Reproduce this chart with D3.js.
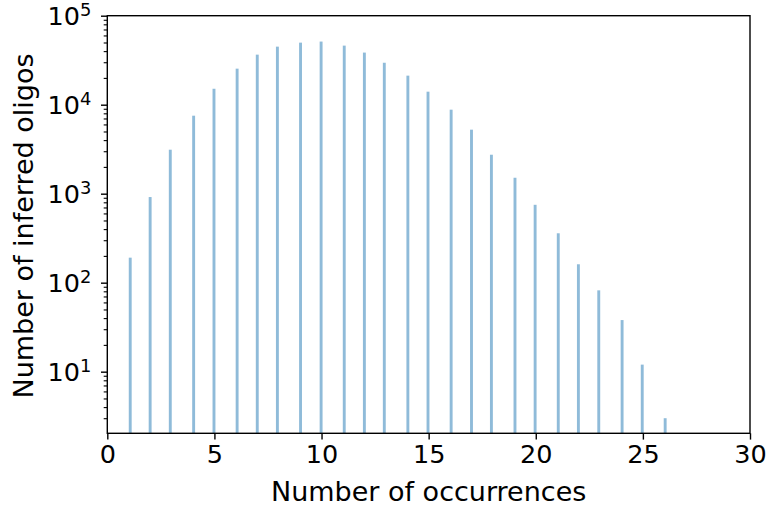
<!DOCTYPE html>
<html>
<head>
<meta charset="utf-8">
<script src="https://cdn.jsdelivr.net/npm/d3@7/dist/d3.min.js"></script>
<style>
  body { margin: 0; background: #fff; }
  text { font-family: "DejaVu Sans", sans-serif; fill: #000; }
</style>
</head>
<body>
<svg id="chart" width="768" height="509"></svg>
<script>
// Histogram data
const occurrences = [1, 2, 3, 4, 5, 6, 7, 8, 9, 10, 11, 12, 13, 14, 15, 16, 17, 18, 19, 20, 21, 22, 23, 24, 25, 26];
const binCenters = [1.07, 2.00, 2.94, 4.03, 4.98, 6.06, 7.00, 7.94, 9.02, 9.98, 11.06, 12.00, 12.93,
                    14.03, 14.97, 16.05, 17.00, 17.93, 19.03, 19.97, 21.05, 21.99, 22.94, 24.03, 24.97, 26.04];
const counts = [191, 917, 3120, 7520, 15100, 25400, 36500, 44900, 49800, 51200, 46100, 38500, 29600,
                21200, 14000, 8790, 5240, 2740, 1510, 750, 359, 161, 82, 38, 12, 3];
const binWidth = 0.135;
const xTicks = [0, 5, 10, 15, 20, 25, 30];
const yTickExponents = [1, 2, 3, 4, 5];

const width = 768, height = 509;
const plot = {left: 107.3, right: 750, top: 15.7, bottom: 433.3};
const tickFont = 25.5, labelFont = 27;

const svg = d3.select('#chart');

const x = d3.scaleLinear().domain([0, 30]).range([plot.left, plot.right]);
const y = d3.scaleLog().domain([2.03, 1e5]).range([plot.bottom, plot.top]);

// bars
svg.append('g')
  .selectAll('rect')
  .data(counts)
  .enter()
  .append('rect')
  .attr('x', (d, i) => x(binCenters[i] - binWidth / 2))
  .attr('width', x(binWidth) - x(0))
  .attr('y', d => y(d))
  .attr('height', d => plot.bottom - y(d))
  .attr('fill', '#1f77b4')
  .attr('fill-opacity', 0.5);

// x axis
const xAxis = svg.append('g')
  .attr('transform', `translate(0,${plot.bottom})`)
  .call(d3.axisBottom(x).tickValues(xTicks).tickSize(6.3).tickPadding(5.5).tickFormat(d3.format('d')));
xAxis.select('.domain').remove();
xAxis.selectAll('line').attr('stroke', '#000').attr('stroke-width', 1.4);
xAxis.selectAll('text').attr('font-size', tickFont).attr('font-family', 'DejaVu Sans');

// y axis: minor ticks (log)
const minorVals = [];
yTickExponents.concat([0]).forEach(k => {
  for (let m = 2; m <= 9; m++) {
    const v = m * Math.pow(10, k);
    if (v >= y.domain()[0] && v <= y.domain()[1]) minorVals.push(v);
  }
});
const yMinor = svg.append('g')
  .attr('transform', `translate(${plot.left},0)`)
  .call(d3.axisLeft(y).tickValues(minorVals).tickSize(3.6).tickFormat(''));
yMinor.select('.domain').remove();
yMinor.selectAll('line').attr('stroke', '#000').attr('stroke-width', 1.1);

// y axis: major ticks
const majorVals = yTickExponents.map(k => Math.pow(10, k));
const yMajor = svg.append('g')
  .attr('transform', `translate(${plot.left},0)`)
  .call(d3.axisLeft(y).tickValues(majorVals).tickSize(6.3).tickFormat(''));
yMajor.select('.domain').remove();
yMajor.selectAll('line').attr('stroke', '#000').attr('stroke-width', 1.4);

// y tick labels as 10^k
const yLabels = svg.append('g');
yTickExponents.forEach(k => {
  const t = yLabels.append('text')
    .attr('x', plot.left - 16)
    .attr('y', y(Math.pow(10, k)) + 9.5)
    .attr('text-anchor', 'end')
    .attr('font-size', tickFont);
  t.append('tspan').text('10');
  t.append('tspan').attr('font-size', tickFont * 0.7).attr('dy', -9.5).text(k);
});

// frame
svg.append('rect')
  .attr('x', plot.left)
  .attr('y', plot.top)
  .attr('width', plot.right - plot.left)
  .attr('height', plot.bottom - plot.top)
  .attr('fill', 'none')
  .attr('stroke', '#000')
  .attr('stroke-width', 1.4);

// axis labels
svg.append('text')
  .attr('x', (plot.left + plot.right) / 2)
  .attr('y', 501)
  .attr('text-anchor', 'middle')
  .attr('font-size', labelFont)
  .text('Number of occurrences');

svg.append('text')
  .attr('transform', `translate(33,${(plot.top + plot.bottom) / 2 + 1.5}) rotate(-90)`)
  .attr('text-anchor', 'middle')
  .attr('font-size', labelFont)
  .text('Number of inferred oligos');
</script>
</body>
</html>
